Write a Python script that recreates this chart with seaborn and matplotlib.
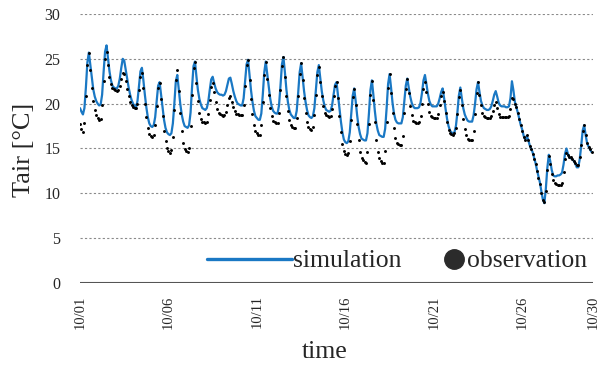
import numpy as np
import pandas as pd
import matplotlib
matplotlib.use("Agg")
import matplotlib.pyplot as plt
import seaborn as sns
from matplotlib.lines import Line2D

# Date tick labels along the time axis (October)
tick_labels = ["10/01", "10/06", "10/11", "10/16", "10/21", "10/26", "10/30"]

# Air temperature [°C] every 2 hours (00, 02, ..., 22 h), one row per day
sim_temp = [
    19.5, 19.1, 18.8, 19.5, 21.8, 24.6, 25.7, 24.3, 22.8, 21.6, 20.8, 20.3,
    20.0, 19.8, 19.9, 21.0, 23.5, 25.8, 26.5, 25.0, 23.6, 22.6, 22.0, 21.8,
    21.7, 21.7, 22.0, 22.8, 24.0, 25.0, 24.8, 23.8, 22.8, 21.8, 21.0, 20.4,
    20.0, 19.7, 19.6, 20.3, 22.0, 23.6, 24.0, 22.6, 21.0, 19.6, 18.5, 17.8,
    17.5, 17.4, 17.6, 18.5, 20.3, 22.0, 22.4, 21.0, 19.5, 18.2, 17.3, 16.8,
    16.6, 16.5, 16.7, 17.8, 20.0, 22.5, 23.2, 21.6, 20.0, 18.8, 18.0, 17.5,
    17.4, 17.3, 17.6, 19.0, 21.8, 24.2, 24.7, 23.0, 21.5, 20.5, 19.9, 19.5,
    19.4, 19.3, 19.5, 20.2, 21.5, 22.7, 23.0, 22.3, 21.7, 21.3, 21.1, 21.0,
    21.0, 20.9, 21.0, 21.4, 22.1, 22.8, 22.9, 22.2, 21.4, 20.8, 20.3, 20.0,
    19.9, 19.8, 19.8, 20.6, 22.5, 24.4, 24.9, 23.2, 21.5, 20.2, 19.2, 18.6,
    18.4, 18.2, 18.2, 18.9, 21.0, 23.5, 24.7, 23.3, 21.8, 20.6, 19.7, 19.2,
    19.0, 18.9, 18.9, 19.8, 22.0, 24.4, 25.2, 23.5, 21.6, 20.2, 19.3, 18.8,
    18.6, 18.4, 18.4, 19.2, 21.2, 23.5, 24.5, 23.0, 21.4, 20.2, 19.3, 18.7,
    18.5, 18.4, 18.6, 19.5, 21.5, 23.5, 24.3, 22.9, 21.4, 20.4, 19.7, 19.3,
    19.2, 19.1, 19.2, 19.8, 21.0, 22.1, 22.4, 21.0, 19.5, 18.0, 16.8, 16.0,
    15.7, 15.6, 15.8, 16.8, 18.8, 20.9, 21.7, 20.3, 18.7, 17.4, 16.6, 16.1,
    16.0, 15.9, 15.9, 16.7, 18.9, 21.5, 22.6, 21.0, 19.2, 17.8, 17.0, 16.5,
    16.4, 16.3, 16.3, 17.2, 19.5, 22.2, 23.3, 21.8, 20.1, 18.9, 18.2, 17.9,
    17.8, 17.8, 17.8, 18.5, 20.2, 22.0, 22.8, 21.8, 20.8, 20.1, 19.7, 19.5,
    19.5, 19.5, 19.6, 20.1, 21.2, 22.6, 23.2, 22.2, 21.1, 20.3, 19.9, 19.7,
    19.7, 19.7, 19.7, 20.0, 20.6, 21.3, 21.7, 20.6, 19.4, 18.3, 17.5, 17.0,
    16.8, 16.7, 16.8, 17.5, 19.0, 20.9, 21.8, 20.6, 19.5, 18.8, 18.4, 18.1,
    18.0, 18.0, 18.0, 18.7, 20.0, 21.6, 22.4, 21.3, 20.3, 19.8, 19.5, 19.4,
    19.3, 19.3, 19.4, 19.7, 20.3, 21.0, 21.4, 20.8, 20.1, 19.8, 19.7, 19.7,
    19.7, 19.6, 19.6, 19.7, 20.6, 22.5, 21.5, 20.2, 19.6, 19.0, 18.3, 17.6,
    17.1, 16.4, 16.0, 16.4, 16.0, 15.4, 15.0, 14.6, 14.0, 13.4, 12.6, 11.9,
    11.2, 10.2, 9.3, 8.9, 10.5, 12.8, 14.3, 13.6, 12.6, 12.0, 11.9, 11.9,
    12.0, 12.0, 12.1, 12.3, 13.2, 14.4, 15.0, 14.4, 14.0, 13.9, 13.8, 13.6,
    13.3, 12.9, 12.9, 13.8, 15.3, 17.0, 17.6, 16.5, 15.6, 15.2, 14.9, 14.6,
]

obs_temp = [
    17.7, 17.2, 16.8, 17.8, 20.8, 24.3, 25.6, 23.8, 21.8, 20.3, 19.3, 18.7,
    18.4, 18.2, 18.3, 19.8, 22.5, 25.0, 25.8, 24.3, 23.0, 22.2, 21.8, 21.6,
    21.5, 21.4, 21.5, 22.0, 22.8, 23.4, 23.3, 22.5, 21.6, 20.8, 20.2, 19.8,
    19.6, 19.5, 19.5, 20.0, 21.5, 23.0, 23.4, 21.8, 20.0, 18.5, 17.3, 16.6,
    16.4, 16.3, 16.5, 17.6, 19.7, 21.8, 22.3, 20.5, 18.6, 17.0, 15.8, 15.0,
    14.7, 14.5, 14.8, 16.3, 19.3, 22.6, 23.7, 21.4, 19.0, 17.0, 15.6, 14.9,
    14.7, 14.6, 15.0, 17.5, 21.0, 24.0, 24.7, 22.3, 20.3, 19.0, 18.3, 18.0,
    17.9, 17.8, 18.0, 18.9, 20.4, 21.9, 22.3, 21.3, 20.2, 19.4, 19.0, 18.8,
    18.7, 18.6, 18.7, 19.1, 19.8, 20.6, 20.8, 20.2, 19.6, 19.2, 18.9, 18.8,
    18.7, 18.7, 18.7, 19.8, 22.0, 24.3, 24.9, 22.6, 20.5, 18.8, 17.6, 16.9,
    16.7, 16.5, 16.5, 17.6, 20.2, 23.2, 24.7, 22.8, 21.0, 19.5, 18.6, 18.1,
    17.9, 17.8, 17.8, 19.0, 21.5, 24.2, 25.2, 23.0, 20.8, 19.2, 18.2, 17.6,
    17.4, 17.3, 17.3, 18.4, 20.8, 23.3, 24.5, 22.6, 20.6, 19.0, 18.0, 17.4,
    17.2, 17.1, 17.4, 18.7, 21.0, 23.2, 24.1, 22.4, 20.8, 19.7, 19.0, 18.7,
    18.6, 18.5, 18.6, 19.4, 20.8, 22.0, 22.4, 20.6, 18.6, 16.8, 15.5, 14.7,
    14.4, 14.3, 14.5, 15.8, 18.2, 20.7, 21.6, 19.8, 17.7, 15.9, 14.6, 13.9,
    13.7, 13.5, 13.4, 14.6, 17.7, 21.0, 22.5, 20.4, 18.0, 16.0, 14.6, 13.9,
    13.6, 13.4, 13.4, 14.7, 18.0, 21.8, 23.3, 21.2, 19.0, 17.3, 16.2, 15.6,
    15.5, 15.4, 15.4, 16.4, 19.0, 21.6, 22.8, 21.2, 19.7, 18.7, 18.1, 17.9,
    17.8, 17.8, 17.9, 18.6, 20.0, 21.6, 22.4, 21.3, 20.0, 19.1, 18.6, 18.5,
    18.4, 18.4, 18.4, 18.9, 19.8, 20.9, 21.3, 20.3, 19.0, 17.9, 17.1, 16.7,
    16.6, 16.5, 16.7, 17.3, 18.8, 20.7, 21.5, 19.9, 18.3, 17.2, 16.5, 16.1,
    16.0, 15.9, 15.9, 16.9, 18.8, 21.2, 22.4, 21.0, 19.8, 19.0, 18.6, 18.5,
    18.4, 18.4, 18.4, 18.6, 19.2, 19.9, 20.2, 19.5, 18.8, 18.5, 18.5, 18.5,
    18.5, 18.5, 18.5, 18.6, 19.4, 20.6, 20.5, 20.0, 19.6, 19.0, 18.3, 17.6,
    17.0, 16.3, 15.9, 16.5, 15.9, 15.3, 14.9, 14.4, 13.8, 13.3, 12.5, 11.7,
    11.0, 10.0, 9.3, 9.0, 10.3, 12.6, 14.2, 13.3, 12.2, 11.5, 11.2, 11.0,
    10.9, 10.9, 10.9, 11.2, 12.4, 13.8, 14.5, 14.3, 14.1, 14.0, 13.8, 13.6,
    13.4, 13.2, 13.2, 14.0, 15.4, 17.0, 17.6, 16.5, 15.6, 15.2, 14.9, 14.6,
]

STEP_HOURS = 2
BLUE = "#1a78c4"

df = pd.DataFrame({
    "day": np.arange(len(sim_temp)) * STEP_HOURS / 24.0,
    "simulation": sim_temp,
    "observation": obs_temp,
})

sns.set_style("white")
plt.rcParams["font.family"] = ["Liberation Serif", "DejaVu Serif"]

W, H = 601, 367
fig = plt.figure(figsize=(W / 100, H / 100), dpi=100)
ax = fig.add_axes([80 / W, 1 - 283 / H, (593 - 80) / W, (283 - 14) / H])

# horizontal dotted grid and solid zero line
for yv in range(5, 31, 5):
    ax.axhline(yv, color="#8a8a8a", lw=0.8, ls=(0, (2, 2)), zorder=0)
ax.axhline(0, color="#555555", lw=1.5, zorder=1)

sns.lineplot(data=df, x="day", y="simulation", ax=ax, color=BLUE, lw=1.6, zorder=2)
sns.scatterplot(data=df, x="day", y="observation", ax=ax, color="black",
                s=4.5, linewidth=0, zorder=3)

ax.set_xlim(0, 29)
ax.set_ylim(0, 30)
for s in ax.spines.values():
    s.set_visible(False)

tick_pos = [int(t.split("/")[1]) - 1 for t in tick_labels]
ax.set_xticks(tick_pos)
ax.set_xticklabels(tick_labels, rotation=90, fontsize=10.5)
ax.set_yticks(range(0, 31, 5))
ax.tick_params(axis="y", length=0, pad=14, labelsize=11.5)
ax.tick_params(axis="x", length=0, pad=9)

ax.set_xlabel("time", fontsize=18.5)
ax.set_ylabel("Tair [°C]", fontsize=19)
ax.xaxis.set_label_coords(0.476, -0.215)
ax.yaxis.set_label_coords(-0.088, 0.494)

leg1 = ax.legend(handles=[Line2D([], [], color=BLUE, lw=2.4)], labels=["simulation"],
                 loc="center left", bbox_to_anchor=(207 / W, 1 - 261 / H),
                 bbox_transform=fig.transFigure, frameon=False, fontsize=18.5,
                 handlelength=3.3, handletextpad=0.05, borderpad=0, borderaxespad=0)
ax.add_artist(leg1)
ax.legend(handles=[Line2D([], [], ls="none", marker="o", ms=14, color="#2b2b2b")],
          labels=["observation"], loc="center left",
          bbox_to_anchor=(444 / W, 1 - 261 / H), bbox_transform=fig.transFigure,
          frameon=False, fontsize=18.5, handlelength=0.8, handletextpad=0.1,
          borderpad=0, borderaxespad=0)

fig.savefig("out.png", dpi=100)
